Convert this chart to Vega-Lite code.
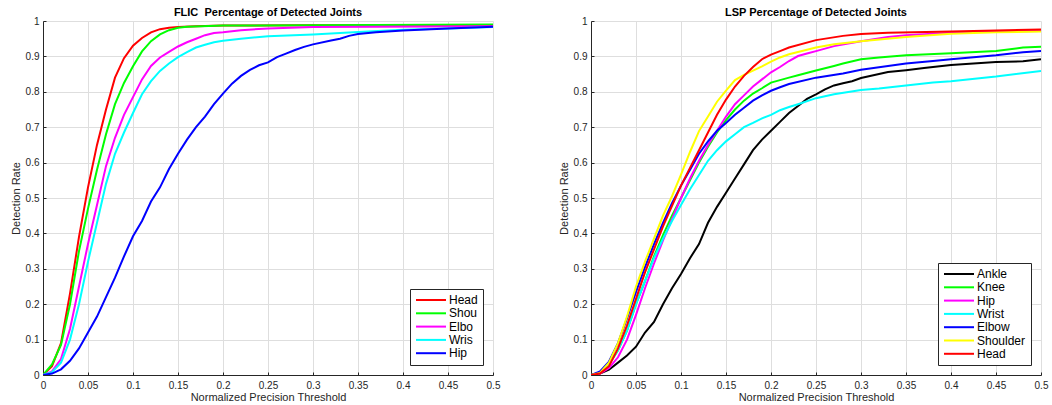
{
  "$schema": "https://vega.github.io/schema/vega-lite/v6.json",
  "padding": {"left": 10, "top": 7, "right": 2, "bottom": 0},
  "spacing": 58,
  "config": {
    "font": "Liberation Sans",
    "view": {"stroke": null},
    "title": {"fontSize": 11, "fontWeight": "bold", "color": "#000000", "offset": -2, "anchor": "middle"},
    "axis": {
      "gridColor": "#dedede", "gridWidth": 1,
      "domainColor": "#262626", "domainWidth": 1,
      "tickColor": "#262626", "tickSize": -3,
      "labelFlush": false, "labelOverlap": false,
      "labelFont": "Liberation Sans", "labelFontSize": 10, "labelColor": "#262626",
      "titleFont": "Liberation Sans", "titleFontSize": 11, "titleFontWeight": "normal", "titleColor": "#262626"
    },
    "legend": {
      "orient": "bottom-right", "offset": 10, "title": null,
      "strokeColor": "#262626", "fillColor": "#ffffff", "padding": 5,
      "symbolType": "M-3,0H3", "symbolSize": 100, "symbolStrokeWidth": 2, "symbolOffset": 10,
      "labelFontSize": 12, "labelColor": "#000000", "labelFont": "Liberation Sans", "labelOffset": 12,
      "rowPadding": 1.3
    }
  },
  "datasets": {
    "flic": [
      {"j":"Head","t":0,"r":0},{"j":"Head","t":0.01,"r":0.025},{"j":"Head","t":0.02,"r":0.09},{"j":"Head","t":0.03,"r":0.23},{"j":"Head","t":0.04,"r":0.39},{"j":"Head","t":0.05,"r":0.53},{"j":"Head","t":0.06,"r":0.65},{"j":"Head","t":0.07,"r":0.75},{"j":"Head","t":0.08,"r":0.84},{"j":"Head","t":0.09,"r":0.895},{"j":"Head","t":0.1,"r":0.93},{"j":"Head","t":0.11,"r":0.952},{"j":"Head","t":0.12,"r":0.968},{"j":"Head","t":0.13,"r":0.977},{"j":"Head","t":0.14,"r":0.981},{"j":"Head","t":0.15,"r":0.983},{"j":"Head","t":0.17,"r":0.985},{"j":"Head","t":0.2,"r":0.987},{"j":"Head","t":0.3,"r":0.988},{"j":"Head","t":0.5,"r":0.988},
      {"j":"Shou","t":0,"r":0},{"j":"Shou","t":0.01,"r":0.03},{"j":"Shou","t":0.02,"r":0.085},{"j":"Shou","t":0.03,"r":0.2},{"j":"Shou","t":0.04,"r":0.35},{"j":"Shou","t":0.05,"r":0.47},{"j":"Shou","t":0.06,"r":0.58},{"j":"Shou","t":0.07,"r":0.68},{"j":"Shou","t":0.08,"r":0.765},{"j":"Shou","t":0.09,"r":0.825},{"j":"Shou","t":0.1,"r":0.872},{"j":"Shou","t":0.11,"r":0.914},{"j":"Shou","t":0.12,"r":0.943},{"j":"Shou","t":0.13,"r":0.962},{"j":"Shou","t":0.14,"r":0.974},{"j":"Shou","t":0.15,"r":0.981},{"j":"Shou","t":0.16,"r":0.984},{"j":"Shou","t":0.2,"r":0.987},{"j":"Shou","t":0.3,"r":0.988},{"j":"Shou","t":0.5,"r":0.99},
      {"j":"Elbo","t":0,"r":0},{"j":"Elbo","t":0.01,"r":0.01},{"j":"Elbo","t":0.02,"r":0.045},{"j":"Elbo","t":0.03,"r":0.13},{"j":"Elbo","t":0.04,"r":0.25},{"j":"Elbo","t":0.05,"r":0.37},{"j":"Elbo","t":0.06,"r":0.48},{"j":"Elbo","t":0.07,"r":0.59},{"j":"Elbo","t":0.08,"r":0.67},{"j":"Elbo","t":0.09,"r":0.735},{"j":"Elbo","t":0.1,"r":0.785},{"j":"Elbo","t":0.11,"r":0.835},{"j":"Elbo","t":0.12,"r":0.873},{"j":"Elbo","t":0.13,"r":0.897},{"j":"Elbo","t":0.14,"r":0.913},{"j":"Elbo","t":0.15,"r":0.928},{"j":"Elbo","t":0.16,"r":0.94},{"j":"Elbo","t":0.17,"r":0.95},{"j":"Elbo","t":0.18,"r":0.96},{"j":"Elbo","t":0.19,"r":0.966},{"j":"Elbo","t":0.2,"r":0.968},{"j":"Elbo","t":0.22,"r":0.974},{"j":"Elbo","t":0.25,"r":0.979},{"j":"Elbo","t":0.3,"r":0.983},{"j":"Elbo","t":0.5,"r":0.985},
      {"j":"Wris","t":0,"r":0},{"j":"Wris","t":0.01,"r":0.008},{"j":"Wris","t":0.02,"r":0.035},{"j":"Wris","t":0.03,"r":0.1},{"j":"Wris","t":0.04,"r":0.2},{"j":"Wris","t":0.05,"r":0.32},{"j":"Wris","t":0.06,"r":0.43},{"j":"Wris","t":0.07,"r":0.54},{"j":"Wris","t":0.08,"r":0.625},{"j":"Wris","t":0.09,"r":0.685},{"j":"Wris","t":0.1,"r":0.74},{"j":"Wris","t":0.11,"r":0.793},{"j":"Wris","t":0.12,"r":0.83},{"j":"Wris","t":0.13,"r":0.859},{"j":"Wris","t":0.14,"r":0.88},{"j":"Wris","t":0.15,"r":0.898},{"j":"Wris","t":0.16,"r":0.912},{"j":"Wris","t":0.17,"r":0.925},{"j":"Wris","t":0.18,"r":0.933},{"j":"Wris","t":0.19,"r":0.94},{"j":"Wris","t":0.2,"r":0.944},{"j":"Wris","t":0.22,"r":0.95},{"j":"Wris","t":0.25,"r":0.957},{"j":"Wris","t":0.3,"r":0.962},{"j":"Wris","t":0.35,"r":0.969},{"j":"Wris","t":0.4,"r":0.975},{"j":"Wris","t":0.45,"r":0.979},{"j":"Wris","t":0.5,"r":0.983},
      {"j":"Hip","t":0,"r":0},{"j":"Hip","t":0.01,"r":0.004},{"j":"Hip","t":0.02,"r":0.016},{"j":"Hip","t":0.03,"r":0.04},{"j":"Hip","t":0.04,"r":0.075},{"j":"Hip","t":0.05,"r":0.12},{"j":"Hip","t":0.06,"r":0.165},{"j":"Hip","t":0.07,"r":0.22},{"j":"Hip","t":0.08,"r":0.275},{"j":"Hip","t":0.09,"r":0.335},{"j":"Hip","t":0.1,"r":0.392},{"j":"Hip","t":0.11,"r":0.435},{"j":"Hip","t":0.12,"r":0.49},{"j":"Hip","t":0.13,"r":0.53},{"j":"Hip","t":0.14,"r":0.582},{"j":"Hip","t":0.15,"r":0.625},{"j":"Hip","t":0.16,"r":0.665},{"j":"Hip","t":0.17,"r":0.7},{"j":"Hip","t":0.18,"r":0.73},{"j":"Hip","t":0.19,"r":0.765},{"j":"Hip","t":0.2,"r":0.795},{"j":"Hip","t":0.21,"r":0.823},{"j":"Hip","t":0.22,"r":0.845},{"j":"Hip","t":0.23,"r":0.862},{"j":"Hip","t":0.24,"r":0.875},{"j":"Hip","t":0.25,"r":0.883},{"j":"Hip","t":0.26,"r":0.898},{"j":"Hip","t":0.27,"r":0.908},{"j":"Hip","t":0.28,"r":0.918},{"j":"Hip","t":0.29,"r":0.927},{"j":"Hip","t":0.3,"r":0.934},{"j":"Hip","t":0.32,"r":0.945},{"j":"Hip","t":0.33,"r":0.95},{"j":"Hip","t":0.34,"r":0.958},{"j":"Hip","t":0.35,"r":0.963},{"j":"Hip","t":0.37,"r":0.968},{"j":"Hip","t":0.4,"r":0.973},{"j":"Hip","t":0.45,"r":0.979},{"j":"Hip","t":0.5,"r":0.984}
    ],
    "lsp": [
      {"j":"Ankle","t":0,"r":0},{"j":"Ankle","t":0.01,"r":0.004},{"j":"Ankle","t":0.02,"r":0.015},{"j":"Ankle","t":0.03,"r":0.035},{"j":"Ankle","t":0.04,"r":0.055},{"j":"Ankle","t":0.05,"r":0.08},{"j":"Ankle","t":0.06,"r":0.12},{"j":"Ankle","t":0.07,"r":0.15},{"j":"Ankle","t":0.08,"r":0.2},{"j":"Ankle","t":0.09,"r":0.245},{"j":"Ankle","t":0.1,"r":0.285},{"j":"Ankle","t":0.11,"r":0.33},{"j":"Ankle","t":0.12,"r":0.37},{"j":"Ankle","t":0.13,"r":0.43},{"j":"Ankle","t":0.14,"r":0.475},{"j":"Ankle","t":0.15,"r":0.515},{"j":"Ankle","t":0.16,"r":0.555},{"j":"Ankle","t":0.17,"r":0.595},{"j":"Ankle","t":0.18,"r":0.635},{"j":"Ankle","t":0.19,"r":0.665},{"j":"Ankle","t":0.2,"r":0.69},{"j":"Ankle","t":0.21,"r":0.715},{"j":"Ankle","t":0.22,"r":0.74},{"j":"Ankle","t":0.23,"r":0.76},{"j":"Ankle","t":0.24,"r":0.78},{"j":"Ankle","t":0.25,"r":0.793},{"j":"Ankle","t":0.26,"r":0.807},{"j":"Ankle","t":0.27,"r":0.818},{"j":"Ankle","t":0.28,"r":0.824},{"j":"Ankle","t":0.29,"r":0.83},{"j":"Ankle","t":0.3,"r":0.839},{"j":"Ankle","t":0.32,"r":0.85},{"j":"Ankle","t":0.33,"r":0.856},{"j":"Ankle","t":0.35,"r":0.861},{"j":"Ankle","t":0.37,"r":0.867},{"j":"Ankle","t":0.4,"r":0.876},{"j":"Ankle","t":0.45,"r":0.884},{"j":"Ankle","t":0.48,"r":0.886},{"j":"Ankle","t":0.5,"r":0.892},
      {"j":"Knee","t":0,"r":0},{"j":"Knee","t":0.01,"r":0.006},{"j":"Knee","t":0.02,"r":0.03},{"j":"Knee","t":0.03,"r":0.07},{"j":"Knee","t":0.04,"r":0.125},{"j":"Knee","t":0.05,"r":0.2},{"j":"Knee","t":0.06,"r":0.265},{"j":"Knee","t":0.07,"r":0.335},{"j":"Knee","t":0.08,"r":0.395},{"j":"Knee","t":0.09,"r":0.45},{"j":"Knee","t":0.1,"r":0.5},{"j":"Knee","t":0.11,"r":0.55},{"j":"Knee","t":0.12,"r":0.6},{"j":"Knee","t":0.13,"r":0.645},{"j":"Knee","t":0.14,"r":0.685},{"j":"Knee","t":0.15,"r":0.72},{"j":"Knee","t":0.16,"r":0.75},{"j":"Knee","t":0.17,"r":0.775},{"j":"Knee","t":0.18,"r":0.795},{"j":"Knee","t":0.19,"r":0.81},{"j":"Knee","t":0.2,"r":0.826},{"j":"Knee","t":0.21,"r":0.833},{"j":"Knee","t":0.22,"r":0.84},{"j":"Knee","t":0.23,"r":0.847},{"j":"Knee","t":0.25,"r":0.86},{"j":"Knee","t":0.27,"r":0.873},{"j":"Knee","t":0.28,"r":0.88},{"j":"Knee","t":0.3,"r":0.892},{"j":"Knee","t":0.32,"r":0.897},{"j":"Knee","t":0.35,"r":0.903},{"j":"Knee","t":0.4,"r":0.909},{"j":"Knee","t":0.45,"r":0.915},{"j":"Knee","t":0.48,"r":0.925},{"j":"Knee","t":0.5,"r":0.927},
      {"j":"Hip","t":0,"r":0},{"j":"Hip","t":0.01,"r":0.004},{"j":"Hip","t":0.02,"r":0.02},{"j":"Hip","t":0.03,"r":0.05},{"j":"Hip","t":0.04,"r":0.1},{"j":"Hip","t":0.05,"r":0.17},{"j":"Hip","t":0.06,"r":0.245},{"j":"Hip","t":0.07,"r":0.315},{"j":"Hip","t":0.08,"r":0.38},{"j":"Hip","t":0.09,"r":0.44},{"j":"Hip","t":0.1,"r":0.5},{"j":"Hip","t":0.11,"r":0.555},{"j":"Hip","t":0.12,"r":0.605},{"j":"Hip","t":0.13,"r":0.65},{"j":"Hip","t":0.14,"r":0.69},{"j":"Hip","t":0.15,"r":0.73},{"j":"Hip","t":0.16,"r":0.765},{"j":"Hip","t":0.17,"r":0.79},{"j":"Hip","t":0.18,"r":0.815},{"j":"Hip","t":0.19,"r":0.835},{"j":"Hip","t":0.2,"r":0.855},{"j":"Hip","t":0.21,"r":0.87},{"j":"Hip","t":0.22,"r":0.887},{"j":"Hip","t":0.23,"r":0.901},{"j":"Hip","t":0.24,"r":0.908},{"j":"Hip","t":0.25,"r":0.915},{"j":"Hip","t":0.27,"r":0.929},{"j":"Hip","t":0.3,"r":0.943},{"j":"Hip","t":0.33,"r":0.955},{"j":"Hip","t":0.35,"r":0.96},{"j":"Hip","t":0.4,"r":0.967},{"j":"Hip","t":0.45,"r":0.97},{"j":"Hip","t":0.5,"r":0.972},
      {"j":"Wrist","t":0,"r":0},{"j":"Wrist","t":0.01,"r":0.006},{"j":"Wrist","t":0.02,"r":0.03},{"j":"Wrist","t":0.03,"r":0.07},{"j":"Wrist","t":0.04,"r":0.125},{"j":"Wrist","t":0.05,"r":0.2},{"j":"Wrist","t":0.06,"r":0.265},{"j":"Wrist","t":0.07,"r":0.33},{"j":"Wrist","t":0.08,"r":0.385},{"j":"Wrist","t":0.09,"r":0.435},{"j":"Wrist","t":0.1,"r":0.48},{"j":"Wrist","t":0.11,"r":0.525},{"j":"Wrist","t":0.12,"r":0.565},{"j":"Wrist","t":0.13,"r":0.605},{"j":"Wrist","t":0.14,"r":0.635},{"j":"Wrist","t":0.15,"r":0.66},{"j":"Wrist","t":0.16,"r":0.68},{"j":"Wrist","t":0.17,"r":0.7},{"j":"Wrist","t":0.18,"r":0.712},{"j":"Wrist","t":0.19,"r":0.725},{"j":"Wrist","t":0.2,"r":0.735},{"j":"Wrist","t":0.21,"r":0.748},{"j":"Wrist","t":0.22,"r":0.757},{"j":"Wrist","t":0.23,"r":0.765},{"j":"Wrist","t":0.25,"r":0.782},{"j":"Wrist","t":0.27,"r":0.793},{"j":"Wrist","t":0.3,"r":0.805},{"j":"Wrist","t":0.32,"r":0.809},{"j":"Wrist","t":0.35,"r":0.818},{"j":"Wrist","t":0.38,"r":0.826},{"j":"Wrist","t":0.4,"r":0.83},{"j":"Wrist","t":0.45,"r":0.843},{"j":"Wrist","t":0.5,"r":0.859},
      {"j":"Elbow","t":0,"r":0},{"j":"Elbow","t":0.01,"r":0.01},{"j":"Elbow","t":0.02,"r":0.038},{"j":"Elbow","t":0.03,"r":0.09},{"j":"Elbow","t":0.04,"r":0.16},{"j":"Elbow","t":0.05,"r":0.235},{"j":"Elbow","t":0.06,"r":0.305},{"j":"Elbow","t":0.07,"r":0.37},{"j":"Elbow","t":0.08,"r":0.43},{"j":"Elbow","t":0.09,"r":0.485},{"j":"Elbow","t":0.1,"r":0.535},{"j":"Elbow","t":0.11,"r":0.58},{"j":"Elbow","t":0.12,"r":0.625},{"j":"Elbow","t":0.13,"r":0.66},{"j":"Elbow","t":0.14,"r":0.69},{"j":"Elbow","t":0.15,"r":0.712},{"j":"Elbow","t":0.16,"r":0.735},{"j":"Elbow","t":0.17,"r":0.755},{"j":"Elbow","t":0.18,"r":0.775},{"j":"Elbow","t":0.19,"r":0.79},{"j":"Elbow","t":0.2,"r":0.803},{"j":"Elbow","t":0.21,"r":0.813},{"j":"Elbow","t":0.22,"r":0.822},{"j":"Elbow","t":0.25,"r":0.84},{"j":"Elbow","t":0.28,"r":0.852},{"j":"Elbow","t":0.3,"r":0.862},{"j":"Elbow","t":0.33,"r":0.873},{"j":"Elbow","t":0.35,"r":0.88},{"j":"Elbow","t":0.38,"r":0.887},{"j":"Elbow","t":0.4,"r":0.892},{"j":"Elbow","t":0.45,"r":0.903},{"j":"Elbow","t":0.48,"r":0.912},{"j":"Elbow","t":0.5,"r":0.915},
      {"j":"Shoulder","t":0,"r":0},{"j":"Shoulder","t":0.01,"r":0.006},{"j":"Shoulder","t":0.02,"r":0.035},{"j":"Shoulder","t":0.03,"r":0.09},{"j":"Shoulder","t":0.04,"r":0.165},{"j":"Shoulder","t":0.05,"r":0.25},{"j":"Shoulder","t":0.06,"r":0.32},{"j":"Shoulder","t":0.07,"r":0.385},{"j":"Shoulder","t":0.08,"r":0.45},{"j":"Shoulder","t":0.09,"r":0.505},{"j":"Shoulder","t":0.1,"r":0.566},{"j":"Shoulder","t":0.11,"r":0.63},{"j":"Shoulder","t":0.12,"r":0.689},{"j":"Shoulder","t":0.13,"r":0.73},{"j":"Shoulder","t":0.14,"r":0.772},{"j":"Shoulder","t":0.15,"r":0.803},{"j":"Shoulder","t":0.16,"r":0.833},{"j":"Shoulder","t":0.17,"r":0.848},{"j":"Shoulder","t":0.18,"r":0.86},{"j":"Shoulder","t":0.19,"r":0.872},{"j":"Shoulder","t":0.2,"r":0.885},{"j":"Shoulder","t":0.21,"r":0.897},{"j":"Shoulder","t":0.22,"r":0.906},{"j":"Shoulder","t":0.25,"r":0.925},{"j":"Shoulder","t":0.27,"r":0.934},{"j":"Shoulder","t":0.3,"r":0.943},{"j":"Shoulder","t":0.35,"r":0.955},{"j":"Shoulder","t":0.4,"r":0.964},{"j":"Shoulder","t":0.45,"r":0.968},{"j":"Shoulder","t":0.5,"r":0.97},
      {"j":"Head","t":0,"r":0},{"j":"Head","t":0.01,"r":0.004},{"j":"Head","t":0.02,"r":0.025},{"j":"Head","t":0.03,"r":0.075},{"j":"Head","t":0.04,"r":0.14},{"j":"Head","t":0.05,"r":0.215},{"j":"Head","t":0.06,"r":0.29},{"j":"Head","t":0.07,"r":0.355},{"j":"Head","t":0.08,"r":0.42},{"j":"Head","t":0.09,"r":0.478},{"j":"Head","t":0.1,"r":0.535},{"j":"Head","t":0.11,"r":0.585},{"j":"Head","t":0.12,"r":0.635},{"j":"Head","t":0.13,"r":0.685},{"j":"Head","t":0.14,"r":0.735},{"j":"Head","t":0.15,"r":0.778},{"j":"Head","t":0.16,"r":0.815},{"j":"Head","t":0.17,"r":0.845},{"j":"Head","t":0.18,"r":0.87},{"j":"Head","t":0.19,"r":0.892},{"j":"Head","t":0.2,"r":0.905},{"j":"Head","t":0.21,"r":0.915},{"j":"Head","t":0.22,"r":0.925},{"j":"Head","t":0.25,"r":0.946},{"j":"Head","t":0.28,"r":0.958},{"j":"Head","t":0.3,"r":0.963},{"j":"Head","t":0.33,"r":0.967},{"j":"Head","t":0.4,"r":0.97},{"j":"Head","t":0.45,"r":0.973},{"j":"Head","t":0.5,"r":0.976}
    ]
  },
  "hconcat": [
    {
      "data": {"name": "flic"},
      "width": 450, "height": 354,
      "title": "FLIC\u00a0 Percentage of Detected Joints",
      "mark": {"type": "line", "strokeWidth": 2, "clip": true},
      "encoding": {
        "x": {"field": "t", "type": "quantitative", "title": "Normalized Precision Threshold",
              "scale": {"domain": [0, 0.5], "nice": false},
              "axis": {"values": [0,0.05,0.1,0.15,0.2,0.25,0.3,0.35,0.4,0.45,0.5], "format": "~g", "labelPadding": 8, "titlePadding": 1}},
        "y": {"field": "r", "type": "quantitative", "title": "Detection Rate",
              "scale": {"domain": [0, 1], "nice": false},
              "axis": {"values": [0,0.1,0.2,0.3,0.4,0.5,0.6,0.7,0.8,0.9,1], "format": "~g", "labelPadding": 7, "titlePadding": 4}},
        "color": {"field": "j", "type": "nominal",
                  "scale": {"domain": ["Head","Shou","Elbo","Wris","Hip"], "range": ["#ff0000","#00ff00","#ff00ff","#00ffff","#0000ff"]}},
        "order": {"field": "t", "type": "quantitative"}
      }
    },
    {
      "data": {"name": "lsp"},
      "width": 450, "height": 354,
      "title": "LSP Percentage of Detected Joints",
      "mark": {"type": "line", "strokeWidth": 2, "clip": true},
      "encoding": {
        "x": {"field": "t", "type": "quantitative", "title": "Normalized Precision Threshold",
              "scale": {"domain": [0, 0.5], "nice": false},
              "axis": {"values": [0,0.05,0.1,0.15,0.2,0.25,0.3,0.35,0.4,0.45,0.5], "format": "~g", "labelPadding": 8, "titlePadding": 1}},
        "y": {"field": "r", "type": "quantitative", "title": "Detection Rate",
              "scale": {"domain": [0, 1], "nice": false},
              "axis": {"values": [0,0.1,0.2,0.3,0.4,0.5,0.6,0.7,0.8,0.9,1], "format": "~g", "labelPadding": 7, "titlePadding": 4}},
        "color": {"field": "j", "type": "nominal",
                  "scale": {"domain": ["Ankle","Knee","Hip","Wrist","Elbow","Shoulder","Head"], "range": ["#000000","#00ff00","#ff00ff","#00ffff","#0000ff","#ffff00","#ff0000"]}},
        "order": {"field": "t", "type": "quantitative"}
      }
    }
  ],
  "resolve": {"scale": {"color": "independent"}, "legend": {"color": "independent"}}
}
